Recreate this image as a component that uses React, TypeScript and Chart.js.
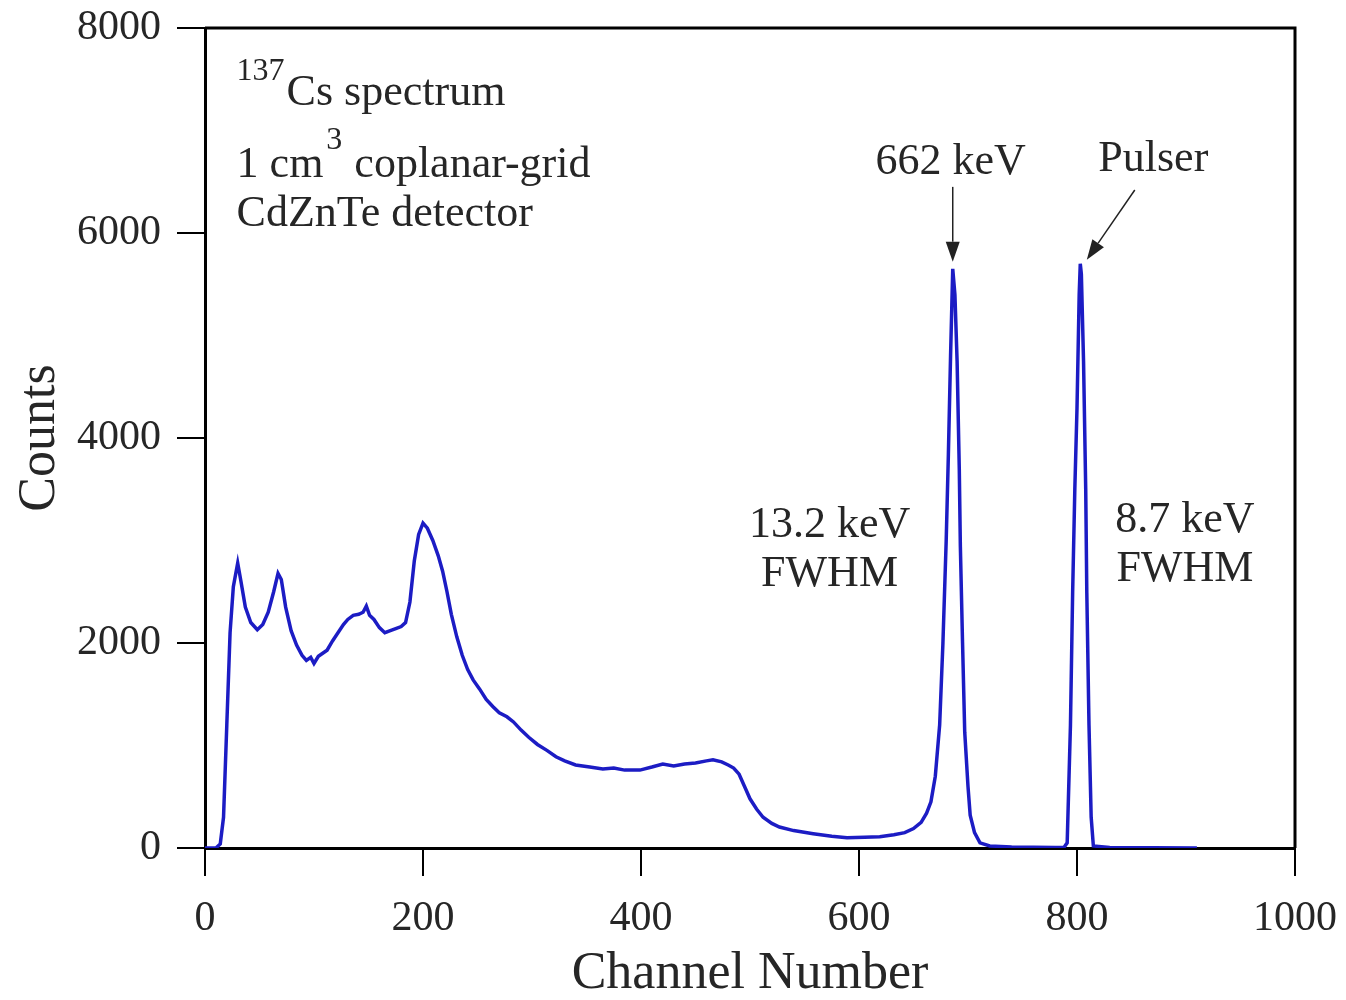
import React, { useEffect, useRef } from "react";
import { Chart, registerables } from "chart.js";

Chart.register(...registerables);

const channels = [
  0, 10, 14, 17, 20, 23, 26, 30, 33, 37, 42, 48, 53, 58, 63, 67, 70, 74, 79, 84, 89, 93, 97, 100, 104, 108, 112, 117, 122,
  127, 131, 136, 141, 145, 148, 151, 155, 160, 165, 170, 175, 180, 184, 188, 192, 196, 200, 204, 209, 214, 218, 222, 226,
  231, 236, 241, 246, 252, 258, 264, 270, 277, 283, 290, 297, 305, 314, 322, 330, 340, 353, 365, 375, 385, 399, 410, 420,
  430, 440, 450, 460, 466, 474, 480, 485, 490, 495, 500, 506, 512, 520, 527, 540, 558, 575, 589, 605, 619, 632, 642, 650,
  657, 662, 666, 670, 674, 677, 680, 682, 684, 686, 688, 690, 692, 693, 695, 697, 700, 702, 706, 711, 720, 740, 780, 788,
  791, 794, 796, 798, 800, 802, 803, 804, 806, 808, 809, 811, 813, 815, 830, 910,
];
const counts = [
  0, 0, 40, 300, 1200, 2100, 2550, 2780, 2600, 2350, 2200, 2130, 2180, 2300, 2500, 2680, 2620, 2350, 2120, 1980, 1880,
  1830, 1860, 1800, 1870, 1900, 1930, 2020, 2100, 2180, 2230, 2270, 2280, 2300, 2360, 2270, 2230, 2150, 2100, 2120, 2140,
  2160, 2200, 2400, 2800, 3060, 3170, 3120, 3000, 2850, 2700, 2500, 2280, 2060, 1880, 1740, 1640, 1550, 1450, 1380, 1320,
  1280, 1230, 1150, 1080, 1010, 950, 890, 850, 810, 790, 770, 780, 760, 760, 790, 820, 800, 820, 830, 850, 860, 840, 810,
  780, 720, 600, 480, 380, 300, 240, 205, 170, 140, 115, 100, 105, 110, 130, 150, 190, 250, 340, 450, 700, 1200, 2000,
  3000, 3840, 4800, 5650, 5400, 4750, 3700, 2940, 2000, 1130, 600, 320, 150, 50, 20, 10, 5, 5, 50, 1200, 2490, 3500,
  4290, 5400, 5700, 5600, 4750, 3500, 2490, 1200, 300, 20, 5, 0,
];

const xTicks = [0, 200, 400, 600, 800, 1000];
const yTicks = [0, 2000, 4000, 6000, 8000];

const xTitle = "Channel Number";
const yTitle = "Counts";

const SERIF = "'Liberation Serif', 'Times New Roman', serif";
const TEXT_COLOR = "#262626";

const annotationPlugin = {
  id: "annotations",
  afterDatasetsDraw(chart: any) {
    const { ctx, chartArea, scales } = chart;
    const xs = scales.x;
    const ys = scales.y;
    const px = (v: number) => xs.getPixelForValue(v);
    const py = (v: number) => ys.getPixelForValue(v);
    ctx.save();
    ctx.strokeStyle = "#000";
    ctx.lineWidth = 3;
    ctx.beginPath();
    ctx.moveTo(chartArea.left, chartArea.top);
    ctx.lineTo(chartArea.right, chartArea.top);
    ctx.lineTo(chartArea.right, chartArea.bottom);
    ctx.stroke();

    ctx.fillStyle = TEXT_COLOR;
    ctx.textBaseline = "middle";
    const big = `44px ${SERIF}`;
    const small = `32px ${SERIF}`;

    const text = (s: string, x: number, y: number, font: string, align: CanvasTextAlign) => {
      ctx.font = font;
      ctx.textAlign = align;
      ctx.fillText(s, x, y);
      return ctx.measureText(s).width;
    };

    const x0 = px(29);
    let w = text("137", x0, py(7570), small, "left");
    text("Cs spectrum", x0 + w + 2, py(7360), big, "left");
    w = text("1 cm", x0, py(6660), big, "left");
    const w3 = text("3", x0 + w + 3, py(6900), small, "left");
    text(" coplanar-grid", x0 + w + w3 + 4, py(6660), big, "left");
    text("CdZnTe detector", x0, py(6180), big, "left");

    const arrow = (x1: number, y1: number, x2: number, y2: number) => {
      ctx.strokeStyle = "#222";
      ctx.fillStyle = "#222";
      ctx.lineWidth = 1.5;
      const ang = Math.atan2(y2 - y1, x2 - x1);
      const hl = 20;
      const hw = 7;
      const bx = x2 - hl * Math.cos(ang);
      const by = y2 - hl * Math.sin(ang);
      ctx.beginPath();
      ctx.moveTo(x1, y1);
      ctx.lineTo(bx, by);
      ctx.stroke();
      ctx.beginPath();
      ctx.moveTo(x2, y2);
      ctx.lineTo(bx + hw * Math.sin(ang), by - hw * Math.cos(ang));
      ctx.lineTo(bx - hw * Math.sin(ang), by + hw * Math.cos(ang));
      ctx.closePath();
      ctx.fill();
      ctx.fillStyle = TEXT_COLOR;
    };
    text("662 keV", px(684), py(6690), big, "center");
    arrow(px(686), py(6450), px(686), py(5720));
    text("Pulser", px(870), py(6720), big, "center");
    arrow(px(853), py(6420), px(809), py(5740));

    text("13.2 keV", px(573), py(3150), big, "center");
    text("FWHM", px(573), py(2665), big, "center");
    text("8.7 keV", px(899), py(3200), big, "center");
    text("FWHM", px(899), py(2715), big, "center");
    ctx.restore();
  },
};

const zeroPad = (s: any) => {
  s.paddingTop = 0;
  s.paddingBottom = 0;
  s.paddingLeft = 0;
  s.paddingRight = 0;
};

export default function App() {
  const ref = useRef<HTMLCanvasElement | null>(null);
  useEffect(() => {
    document.body.style.margin = "0";
    const canvas = ref.current;
    if (!canvas) return;
    const data = channels.map((c, i) => ({ x: c, y: counts[i] }));
    const chart = new Chart(canvas, {
      type: "line",
      data: {
        datasets: [
          {
            data,
            borderColor: "#1c1cc4",
            borderWidth: 3.5,
            pointRadius: 0,
            tension: 0,
            fill: false,
          },
        ],
      },
      options: {
        responsive: false,
        animation: false,
        plugins: { legend: { display: false }, tooltip: { enabled: false } },
        layout: { padding: { top: 28, right: 51, left: 0, bottom: 0 } },
        scales: {
          x: {
            type: "linear",
            min: 0,
            max: 1000,
            afterBuildTicks: (s: any) => {
              s.ticks = xTicks.map((v) => ({ value: v }));
            },
            afterFit: (s: any) => {
              s.height = 152;
              zeroPad(s);
            },
            ticks: {
              font: { family: SERIF, size: 42 },
              color: TEXT_COLOR,
              padding: 18,
              maxRotation: 0,
              autoSkip: false,
              callback: (v: any) => String(v),
            },
            grid: { drawOnChartArea: false, drawTicks: true, tickLength: 28, color: "#000", lineWidth: 2 },
            border: { color: "#000", width: 3 },
            title: {
              display: true,
              text: xTitle,
              font: { family: SERIF, size: 52, lineHeight: 1 },
              color: TEXT_COLOR,
              padding: { top: 0, bottom: 0 },
            },
          },
          y: {
            type: "linear",
            min: 0,
            max: 8000,
            afterBuildTicks: (s: any) => {
              s.ticks = yTicks.map((v) => ({ value: v }));
            },
            afterFit: (s: any) => {
              s.width = 205;
              zeroPad(s);
            },
            ticks: {
              font: { family: SERIF, size: 42 },
              color: TEXT_COLOR,
              padding: 16,
              autoSkip: false,
              callback: (v: any) => String(v),
            },
            grid: { drawOnChartArea: false, drawTicks: true, tickLength: 28, color: "#000", lineWidth: 2 },
            border: { color: "#000", width: 3 },
            title: {
              display: true,
              text: yTitle,
              font: { family: SERIF, size: 52, lineHeight: 1 },
              color: TEXT_COLOR,
              padding: { top: 14, bottom: 0 },
            },
          },
        },
      },
      plugins: [annotationPlugin],
    } as any);
    return () => chart.destroy();
  }, []);
  return (
    <div style={{ width: 1346, height: 1000 }}>
      <canvas ref={ref} width={1346} height={1000} style={{ display: "block" }} />
    </div>
  );
}
